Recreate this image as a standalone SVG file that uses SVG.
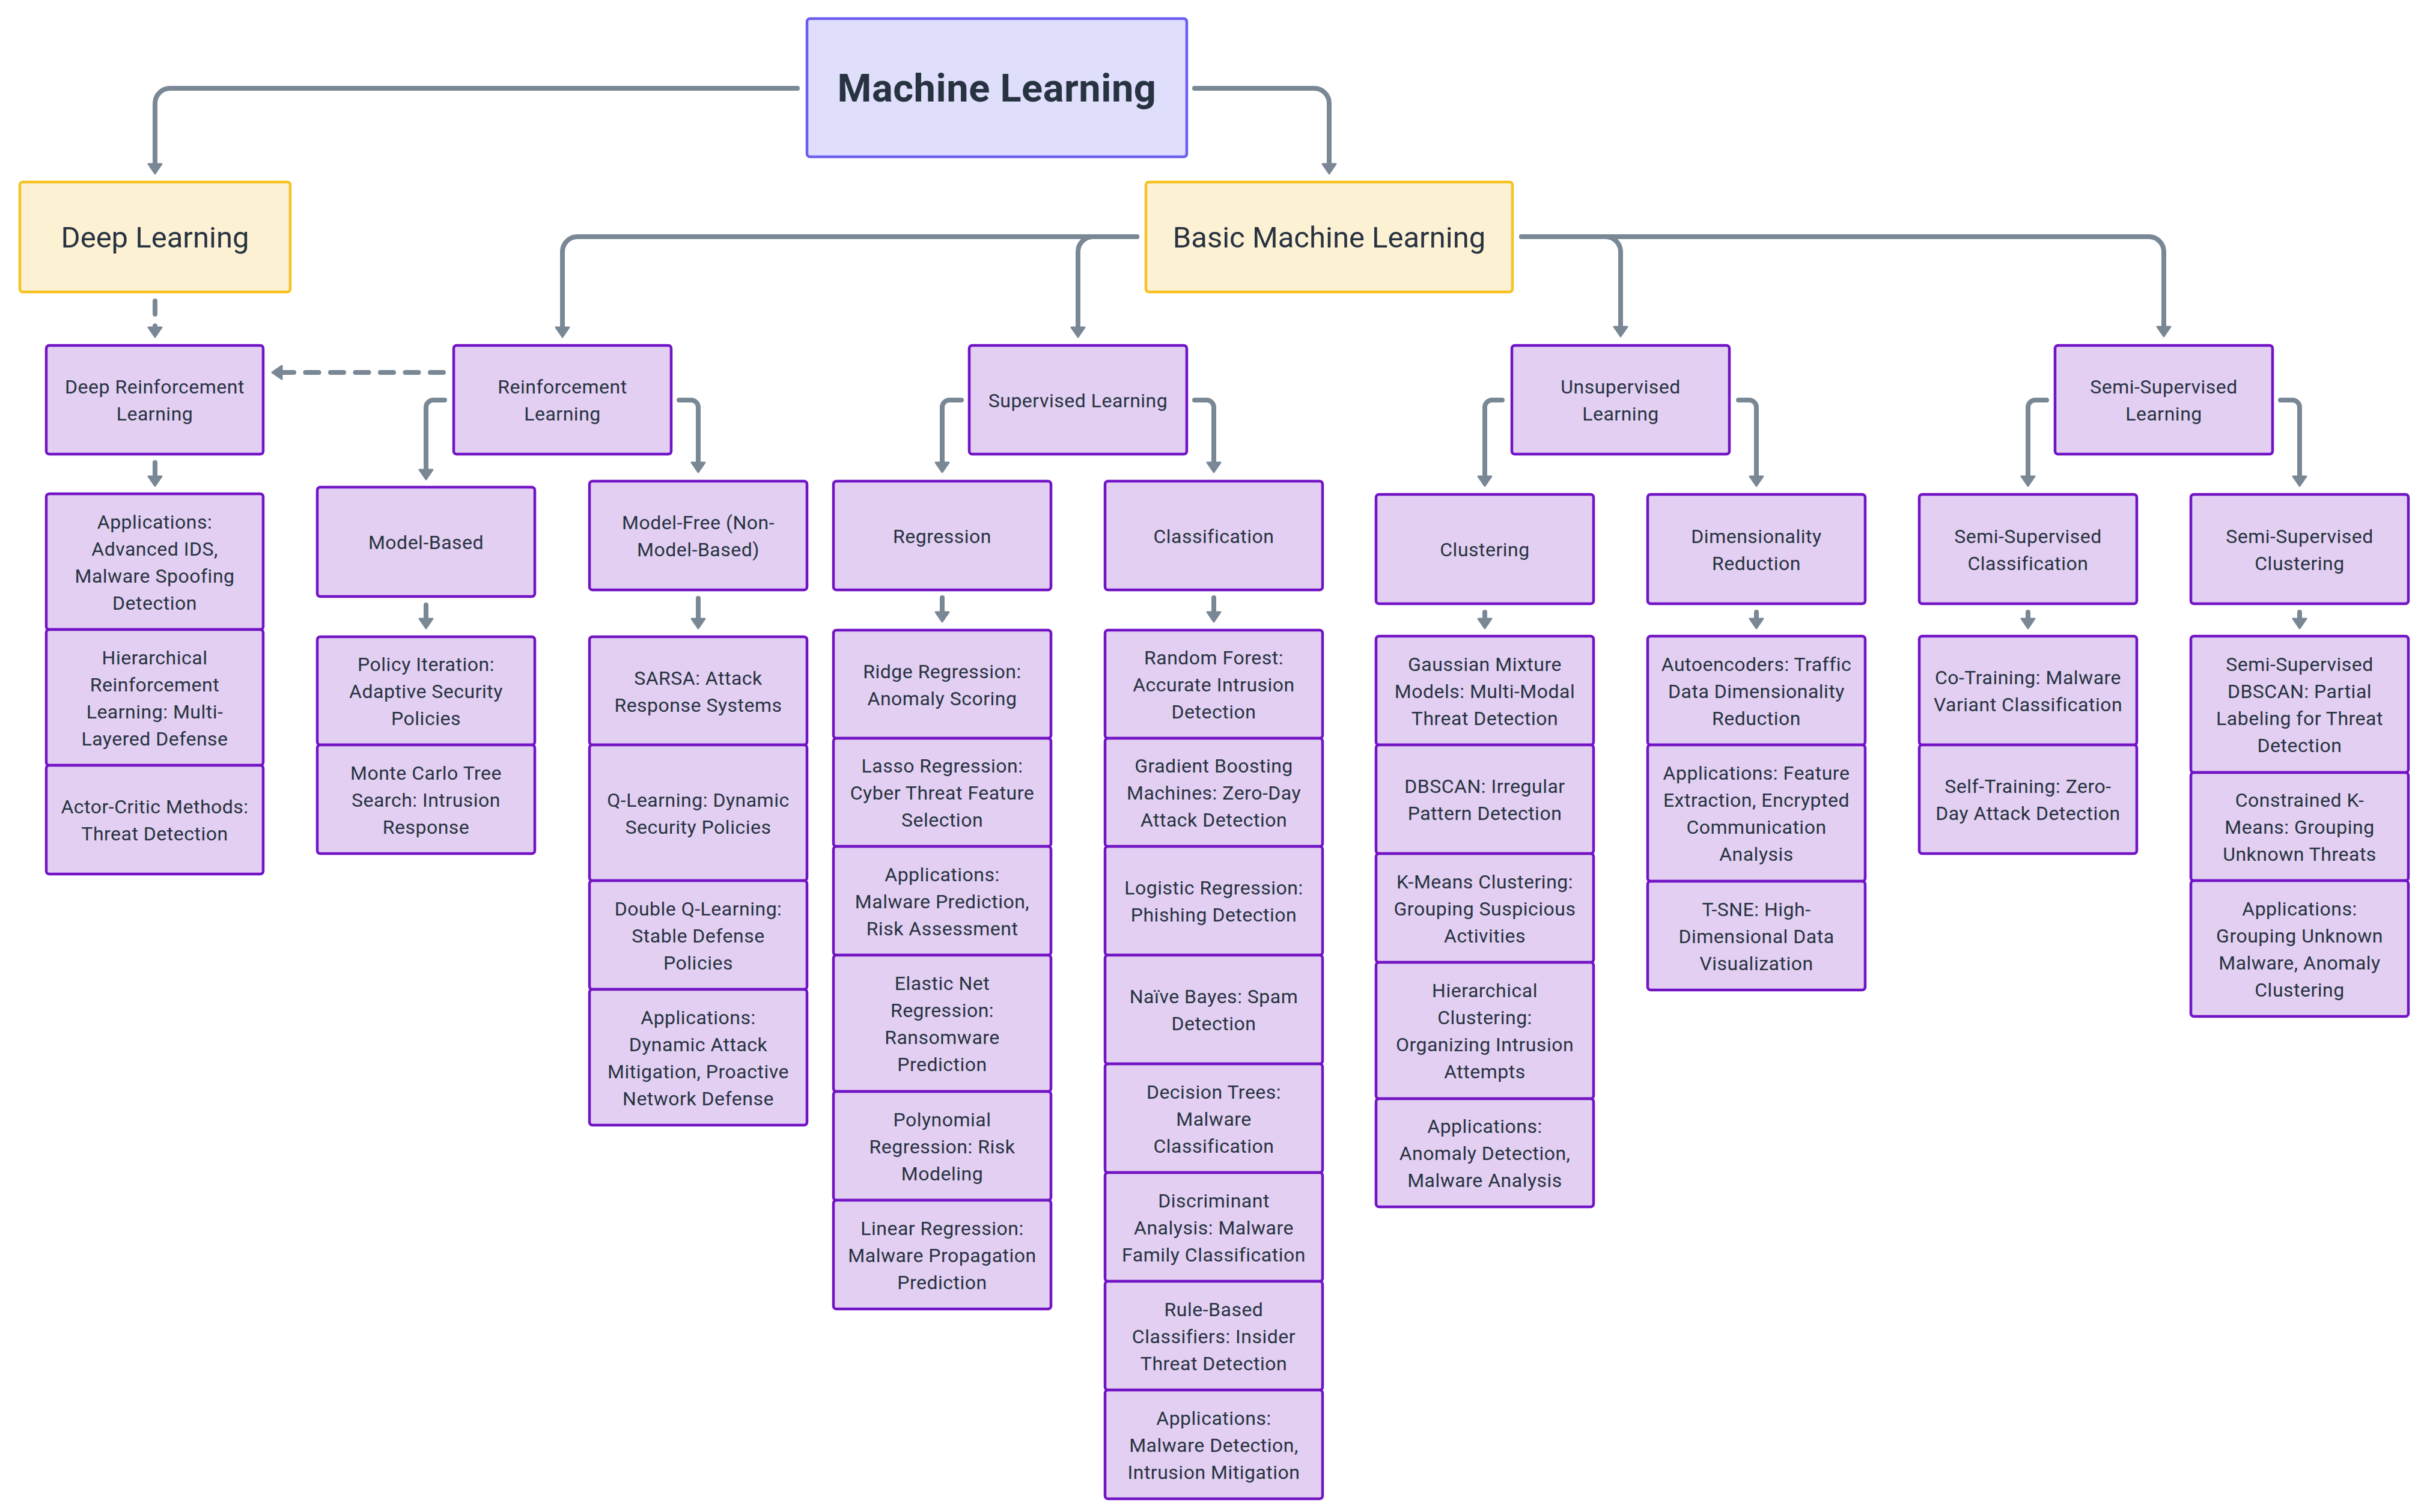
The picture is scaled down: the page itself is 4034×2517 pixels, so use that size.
<svg xmlns="http://www.w3.org/2000/svg" width="4034" height="2517" viewBox="0 0 4034 2517">
<style>
.n rect{fill:#E2CFF2;stroke:#7213C5;stroke-width:4.5}
.y rect{fill:#FCF1D3;stroke:#F6C224;stroke-width:4.5}
.r rect{fill:#DFDEFB;stroke:#6B5DF0;stroke-width:4.5}
text{font-family:Roboto,"Noto Sans",sans-serif;fill:#283341;text-anchor:middle}
.t{font-size:32px;letter-spacing:0.5px}
.b{font-size:49px}
.m{font-size:65px;font-weight:bold;letter-spacing:0.5px}
.e{fill:none;stroke:#7A8896;stroke-width:8;stroke-linecap:round;stroke-linejoin:round}
.d{stroke-dasharray:22 19.5}
</style>
<defs>
<marker id="ah" markerUnits="userSpaceOnUse" viewBox="-5 -16 27 32" markerWidth="27" markerHeight="32" refX="0" refY="0" orient="auto">
<path d="M0,-11 L16,0 L0,11 Z" fill="#7A8896" stroke="#7A8896" stroke-width="3" stroke-linejoin="round"/>
</marker>
</defs>
<rect width="4034" height="2517" fill="#FFFFFF"/>
<g id="edges">
<path class="e" d="M1327,147 H283 A25,25 0 0 0 258,172 V273" marker-end="url(#ah)"/>
<path class="e" d="M1988,147 H2187 A25,25 0 0 1 2212,172 V273" marker-end="url(#ah)"/>
<path class="e" d="M1892,394 H961 A25,25 0 0 0 936,419 V545" marker-end="url(#ah)"/>
<path class="e" d="M1892,394 H1819 A25,25 0 0 0 1794,419 V545" marker-end="url(#ah)"/>
<path class="e" d="M2532,394 H2672 A25,25 0 0 1 2697,419 V544" marker-end="url(#ah)"/>
<path class="e" d="M2532,394 H3576 A25,25 0 0 1 3601,419 V544" marker-end="url(#ah)"/>
<path class="e" d="M740,666 H721 A12,12 0 0 0 709,678 V782" marker-end="url(#ah)"/>
<path class="e" d="M1130,666 H1150 A12,12 0 0 1 1162,678 V770" marker-end="url(#ah)"/>
<path class="e" d="M1600,666 H1580 A12,12 0 0 0 1568,678 V770" marker-end="url(#ah)"/>
<path class="e" d="M1988,666 H2008 A12,12 0 0 1 2020,678 V770" marker-end="url(#ah)"/>
<path class="e" d="M2500,666 H2483 A12,12 0 0 0 2471,678 V793" marker-end="url(#ah)"/>
<path class="e" d="M2893,666 H2911 A12,12 0 0 1 2923,678 V793" marker-end="url(#ah)"/>
<path class="e" d="M3406,666 H3387 A12,12 0 0 0 3375,678 V793" marker-end="url(#ah)"/>
<path class="e" d="M3795,666 H3815 A12,12 0 0 1 3827,678 V793" marker-end="url(#ah)"/>
<path class="e" d="M258,770 V793" marker-end="url(#ah)"/>
<path class="e" d="M709,1007 V1030" marker-end="url(#ah)"/>
<path class="e" d="M1162,996 V1030" marker-end="url(#ah)"/>
<path class="e" d="M1568,995 V1019" marker-end="url(#ah)"/>
<path class="e" d="M2020,995 V1019" marker-end="url(#ah)"/>
<path class="e" d="M2471,1019 V1030" marker-end="url(#ah)"/>
<path class="e" d="M2923,1019 V1030" marker-end="url(#ah)"/>
<path class="e" d="M3375,1019 V1030" marker-end="url(#ah)"/>
<path class="e" d="M3827,1019 V1030" marker-end="url(#ah)"/>
<path class="e d" d="M738,620 H469" marker-end="url(#ah)"/>
<path class="e d" d="M258,501 V545" marker-end="url(#ah)"/>
</g>
<g id="ml" class="r"><rect x="1343" y="31" width="632" height="230" rx="5"/><text class="m" x="1659" y="169">Machine Learning</text></g>
<g id="dl" class="y"><rect x="33" y="303" width="450" height="183" rx="5"/><text class="b" x="258" y="412">Deep Learning</text></g>
<g id="bml" class="y"><rect x="1907" y="303" width="610" height="183" rx="5"/><text class="b" x="2212" y="412">Basic Machine Learning</text></g>

<g id="drl" class="n"><rect x="77" y="575" width="361" height="181" rx="5"/><text class="t"><tspan x="257.5" y="655">Deep Reinforcement</tspan><tspan x="257.5" y="700">Learning</tspan></text></g>
<g id="rl" class="n"><rect x="755" y="575" width="362" height="181" rx="5"/><text class="t"><tspan x="936" y="655">Reinforcement</tspan><tspan x="936" y="700">Learning</tspan></text></g>
<g id="sl" class="n"><rect x="1613" y="575" width="362" height="181" rx="5"/><text class="t" x="1794" y="677.5">Supervised Learning</text></g>
<g id="ul" class="n"><rect x="2516" y="575" width="362" height="181" rx="5"/><text class="t"><tspan x="2697" y="655">Unsupervised</tspan><tspan x="2697" y="700">Learning</tspan></text></g>
<g id="ssl" class="n"><rect x="3420" y="575" width="362" height="181" rx="5"/><text class="t"><tspan x="3601" y="655">Semi-Supervised</tspan><tspan x="3601" y="700">Learning</tspan></text></g>

<g id="mb" class="n"><rect x="528" y="811" width="362" height="182" rx="5"/><text class="t" x="709" y="914">Model-Based</text></g>
<g id="mf" class="n"><rect x="981" y="801" width="362" height="181" rx="5"/><text class="t"><tspan x="1162" y="881">Model-Free (Non-</tspan><tspan x="1162" y="926">Model-Based)</tspan></text></g>
<g id="reg" class="n"><rect x="1387" y="801" width="362" height="181" rx="5"/><text class="t" x="1568" y="903.5">Regression</text></g>
<g id="cls" class="n"><rect x="1839" y="801" width="362" height="181" rx="5"/><text class="t" x="2020" y="903.5">Classification</text></g>
<g id="clu" class="n"><rect x="2290" y="823" width="362" height="182" rx="5"/><text class="t" x="2471" y="926">Clustering</text></g>
<g id="dr" class="n"><rect x="2742" y="823" width="362" height="182" rx="5"/><text class="t"><tspan x="2923" y="903.5">Dimensionality</tspan><tspan x="2923" y="948.5">Reduction</tspan></text></g>
<g id="ssc" class="n"><rect x="3194" y="823" width="362" height="182" rx="5"/><text class="t"><tspan x="3375" y="903.5">Semi-Supervised</tspan><tspan x="3375" y="948.5">Classification</tspan></text></g>
<g id="sscl" class="n"><rect x="3646" y="823" width="362" height="182" rx="5"/><text class="t"><tspan x="3827" y="903.5">Semi-Supervised</tspan><tspan x="3827" y="948.5">Clustering</tspan></text></g>

<g id="drl1" class="n"><rect x="77" y="822" width="361" height="226" rx="5"/><text class="t"><tspan x="257.5" y="879.5">Applications:</tspan><tspan x="257.5" y="924.5">Advanced IDS,</tspan><tspan x="257.5" y="969.5">Malware Spoofing</tspan><tspan x="257.5" y="1014.5">Detection</tspan></text></g>
<g id="drl2" class="n"><rect x="77" y="1048" width="361" height="226" rx="5"/><text class="t"><tspan x="257.5" y="1105.5">Hierarchical</tspan><tspan x="257.5" y="1150.5">Reinforcement</tspan><tspan x="257.5" y="1195.5">Learning: Multi-</tspan><tspan x="257.5" y="1240.5">Layered Defense</tspan></text></g>
<g id="drl3" class="n"><rect x="77" y="1274" width="361" height="181" rx="5"/><text class="t"><tspan x="257.5" y="1354">Actor-Critic Methods:</tspan><tspan x="257.5" y="1399">Threat Detection</tspan></text></g>

<g id="mb1" class="n"><rect x="528" y="1060" width="362" height="180" rx="5"/><text class="t"><tspan x="709" y="1117">Policy Iteration:</tspan><tspan x="709" y="1162">Adaptive Security</tspan><tspan x="709" y="1207">Policies</tspan></text></g>
<g id="mb2" class="n"><rect x="528" y="1240" width="362" height="181" rx="5"/><text class="t"><tspan x="709" y="1297.5">Monte Carlo Tree</tspan><tspan x="709" y="1342.5">Search: Intrusion</tspan><tspan x="709" y="1387.5">Response</tspan></text></g>

<g id="mf1" class="n"><rect x="981" y="1060" width="362" height="180" rx="5"/><text class="t"><tspan x="1162" y="1139.5">SARSA: Attack</tspan><tspan x="1162" y="1184.5">Response Systems</tspan></text></g>
<g id="mf2" class="n"><rect x="981" y="1240" width="362" height="226" rx="5"/><text class="t"><tspan x="1162" y="1342.5">Q-Learning: Dynamic</tspan><tspan x="1162" y="1387.5">Security Policies</tspan></text></g>
<g id="mf3" class="n"><rect x="981" y="1466" width="362" height="181" rx="5"/><text class="t"><tspan x="1162" y="1523.5">Double Q-Learning:</tspan><tspan x="1162" y="1568.5">Stable Defense</tspan><tspan x="1162" y="1613.5">Policies</tspan></text></g>
<g id="mf4" class="n"><rect x="981" y="1647" width="362" height="226" rx="5"/><text class="t"><tspan x="1162" y="1704.5">Applications:</tspan><tspan x="1162" y="1749.5">Dynamic Attack</tspan><tspan x="1162" y="1794.5">Mitigation, Proactive</tspan><tspan x="1162" y="1839.5">Network Defense</tspan></text></g>

<g id="reg1" class="n"><rect x="1387" y="1049" width="362" height="180" rx="5"/><text class="t"><tspan x="1568" y="1128.5">Ridge Regression:</tspan><tspan x="1568" y="1173.5">Anomaly Scoring</tspan></text></g>
<g id="reg2" class="n"><rect x="1387" y="1229" width="362" height="180" rx="5"/><text class="t"><tspan x="1568" y="1286">Lasso Regression:</tspan><tspan x="1568" y="1331">Cyber Threat Feature</tspan><tspan x="1568" y="1376">Selection</tspan></text></g>
<g id="reg3" class="n"><rect x="1387" y="1409" width="362" height="181" rx="5"/><text class="t"><tspan x="1568" y="1466.5">Applications:</tspan><tspan x="1568" y="1511.5">Malware Prediction,</tspan><tspan x="1568" y="1556.5">Risk Assessment</tspan></text></g>
<g id="reg4" class="n"><rect x="1387" y="1590" width="362" height="227" rx="5"/><text class="t"><tspan x="1568" y="1648">Elastic Net</tspan><tspan x="1568" y="1693">Regression:</tspan><tspan x="1568" y="1738">Ransomware</tspan><tspan x="1568" y="1783">Prediction</tspan></text></g>
<g id="reg5" class="n"><rect x="1387" y="1817" width="362" height="181" rx="5"/><text class="t"><tspan x="1568" y="1874.5">Polynomial</tspan><tspan x="1568" y="1919.5">Regression: Risk</tspan><tspan x="1568" y="1964.5">Modeling</tspan></text></g>
<g id="reg6" class="n"><rect x="1387" y="1998" width="362" height="181" rx="5"/><text class="t"><tspan x="1568" y="2055.5">Linear Regression:</tspan><tspan x="1568" y="2100.5">Malware Propagation</tspan><tspan x="1568" y="2145.5">Prediction</tspan></text></g>

<g id="cls1" class="n"><rect x="1839" y="1049" width="362" height="180" rx="5"/><text class="t"><tspan x="2020" y="1106">Random Forest:</tspan><tspan x="2020" y="1151">Accurate Intrusion</tspan><tspan x="2020" y="1196">Detection</tspan></text></g>
<g id="cls2" class="n"><rect x="1839" y="1229" width="362" height="180" rx="5"/><text class="t"><tspan x="2020" y="1286">Gradient Boosting</tspan><tspan x="2020" y="1331">Machines: Zero-Day</tspan><tspan x="2020" y="1376">Attack Detection</tspan></text></g>
<g id="cls3" class="n"><rect x="1839" y="1409" width="362" height="181" rx="5"/><text class="t"><tspan x="2020" y="1489">Logistic Regression:</tspan><tspan x="2020" y="1534">Phishing Detection</tspan></text></g>
<g id="cls4" class="n"><rect x="1839" y="1590" width="362" height="181" rx="5"/><text class="t"><tspan x="2020" y="1670">Naïve Bayes: Spam</tspan><tspan x="2020" y="1715">Detection</tspan></text></g>
<g id="cls5" class="n"><rect x="1839" y="1771" width="362" height="181" rx="5"/><text class="t"><tspan x="2020" y="1828.5">Decision Trees:</tspan><tspan x="2020" y="1873.5">Malware</tspan><tspan x="2020" y="1918.5">Classification</tspan></text></g>
<g id="cls6" class="n"><rect x="1839" y="1952" width="362" height="181" rx="5"/><text class="t"><tspan x="2020" y="2009.5">Discriminant</tspan><tspan x="2020" y="2054.5">Analysis: Malware</tspan><tspan x="2020" y="2099.5">Family Classification</tspan></text></g>
<g id="cls7" class="n"><rect x="1839" y="2133" width="362" height="181" rx="5"/><text class="t"><tspan x="2020" y="2190.5">Rule-Based</tspan><tspan x="2020" y="2235.5">Classifiers: Insider</tspan><tspan x="2020" y="2280.5">Threat Detection</tspan></text></g>
<g id="cls8" class="n"><rect x="1839" y="2314" width="362" height="181" rx="5"/><text class="t"><tspan x="2020" y="2371.5">Applications:</tspan><tspan x="2020" y="2416.5">Malware Detection,</tspan><tspan x="2020" y="2461.5">Intrusion Mitigation</tspan></text></g>

<g id="clu1" class="n"><rect x="2290" y="1059" width="362" height="181" rx="5"/><text class="t"><tspan x="2471" y="1116.5">Gaussian Mixture</tspan><tspan x="2471" y="1161.5">Models: Multi-Modal</tspan><tspan x="2471" y="1206.5">Threat Detection</tspan></text></g>
<g id="clu2" class="n"><rect x="2290" y="1240" width="362" height="181" rx="5"/><text class="t"><tspan x="2471" y="1320">DBSCAN: Irregular</tspan><tspan x="2471" y="1365">Pattern Detection</tspan></text></g>
<g id="clu3" class="n"><rect x="2290" y="1421" width="362" height="181" rx="5"/><text class="t"><tspan x="2471" y="1478.5">K-Means Clustering:</tspan><tspan x="2471" y="1523.5">Grouping Suspicious</tspan><tspan x="2471" y="1568.5">Activities</tspan></text></g>
<g id="clu4" class="n"><rect x="2290" y="1602" width="362" height="227" rx="5"/><text class="t"><tspan x="2471" y="1660">Hierarchical</tspan><tspan x="2471" y="1705">Clustering:</tspan><tspan x="2471" y="1750">Organizing Intrusion</tspan><tspan x="2471" y="1795">Attempts</tspan></text></g>
<g id="clu5" class="n"><rect x="2290" y="1829" width="362" height="180" rx="5"/><text class="t"><tspan x="2471" y="1886">Applications:</tspan><tspan x="2471" y="1931">Anomaly Detection,</tspan><tspan x="2471" y="1976">Malware Analysis</tspan></text></g>

<g id="dr1" class="n"><rect x="2742" y="1059" width="362" height="181" rx="5"/><text class="t"><tspan x="2923" y="1116.5">Autoencoders: Traffic</tspan><tspan x="2923" y="1161.5">Data Dimensionality</tspan><tspan x="2923" y="1206.5">Reduction</tspan></text></g>
<g id="dr2" class="n"><rect x="2742" y="1240" width="362" height="227" rx="5"/><text class="t"><tspan x="2923" y="1298">Applications: Feature</tspan><tspan x="2923" y="1343">Extraction, Encrypted</tspan><tspan x="2923" y="1388">Communication</tspan><tspan x="2923" y="1433">Analysis</tspan></text></g>
<g id="dr3" class="n"><rect x="2742" y="1467" width="362" height="181" rx="5"/><text class="t"><tspan x="2923" y="1524.5">T-SNE: High-</tspan><tspan x="2923" y="1569.5">Dimensional Data</tspan><tspan x="2923" y="1614.5">Visualization</tspan></text></g>

<g id="ssc1" class="n"><rect x="3194" y="1059" width="362" height="181" rx="5"/><text class="t"><tspan x="3375" y="1139">Co-Training: Malware</tspan><tspan x="3375" y="1184">Variant Classification</tspan></text></g>
<g id="ssc2" class="n"><rect x="3194" y="1240" width="362" height="181" rx="5"/><text class="t"><tspan x="3375" y="1320">Self-Training: Zero-</tspan><tspan x="3375" y="1365">Day Attack Detection</tspan></text></g>

<g id="sscl1" class="n"><rect x="3646" y="1059" width="362" height="227" rx="5"/><text class="t"><tspan x="3827" y="1117">Semi-Supervised</tspan><tspan x="3827" y="1162">DBSCAN: Partial</tspan><tspan x="3827" y="1207">Labeling for Threat</tspan><tspan x="3827" y="1252">Detection</tspan></text></g>
<g id="sscl2" class="n"><rect x="3646" y="1286" width="362" height="180" rx="5"/><text class="t"><tspan x="3827" y="1343">Constrained K-</tspan><tspan x="3827" y="1388">Means: Grouping</tspan><tspan x="3827" y="1433">Unknown Threats</tspan></text></g>
<g id="sscl3" class="n"><rect x="3646" y="1466" width="362" height="226" rx="5"/><text class="t"><tspan x="3827" y="1523.5">Applications:</tspan><tspan x="3827" y="1568.5">Grouping Unknown</tspan><tspan x="3827" y="1613.5">Malware, Anomaly</tspan><tspan x="3827" y="1658.5">Clustering</tspan></text></g>
</svg>
